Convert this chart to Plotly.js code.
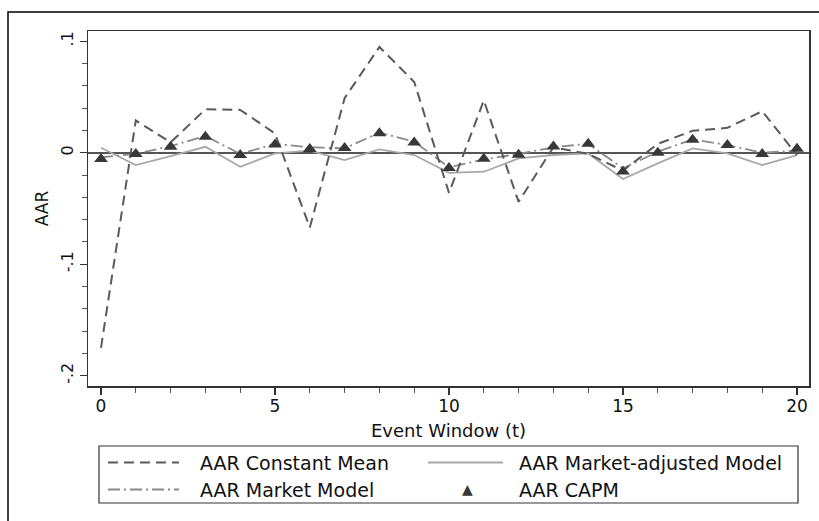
<!DOCTYPE html>
<html>
<head>
<meta charset="utf-8">
<script src="https://cdn.plot.ly/plotly-3.0.1.min.js"></script>
<style>
html,body{margin:0;padding:0;background:#fff;}
#chart{width:819px;height:521px;}
</style>
</head>
<body>
<div id="chart"></div>
<script>
const eventWindow = [0,1,2,3,4,5,6,7,8,9,10,11,12,13,14,15,16,17,18,19,20];
const aarConstantMean = [-0.175,0.029,0.0093,0.039,0.0385,0.0173,-0.067,0.049,0.095,0.0636,-0.036,0.047,-0.044,0.005,-0.001,-0.016,0.008,0.0197,0.0224,0.0373,-0.002];
const aarMarketAdjusted = [0.0045,-0.011,-0.003,0.0054,-0.0125,-0.0006,0.002,-0.0066,0.003,-0.002,-0.018,-0.017,-0.005,-0.002,-0.0006,-0.0236,-0.0095,0.0039,-0.0006,-0.011,-0.002];
const aarMarketModel = [-0.004,-0.001,0.006,0.015,-0.001,0.008,0.005,0.004,0.018,0.010,-0.013,-0.006,-0.001,0.005,0.008,-0.014,0.001,0.012,0.007,0.000,0.002];
const aarCAPM = [-0.0055,-0.001,0.0055,0.0145,-0.002,0.0075,0.0033,0.0042,0.0176,0.0093,-0.0137,-0.0054,-0.0018,0.0057,0.008,-0.0167,0.0,0.0116,0.0069,-0.001,0.0036];
const seriesNames = ["AAR Constant Mean","AAR Market-adjusted Model","AAR Market Model","AAR CAPM"];
const yTickVals = [-0.2,-0.1,0,0.1];
const yTickText = ["-.2","-.1","0",".1"];
const xTickVals = [0,5,10,15,20];

const FONT = "DejaVu Sans, Liberation Sans, Arial, sans-serif";
const C_CM = "#5a5a5a", C_MA = "#a8a8a8", C_MM = "#8a8a8a", C_CAPM = "#383838";
const DASH_CM = "10px,6px", DASH_MM = "12px,4px,2px,4px";

const traces = [
  {x: eventWindow, y: aarMarketAdjusted, name: seriesNames[1], type: "scatter", mode: "lines",
   line: {color: C_MA, width: 1.8}},
  {x: eventWindow, y: aarMarketModel, name: seriesNames[2], type: "scatter", mode: "lines",
   line: {color: C_MM, width: 1.8, dash: DASH_MM}},
  {x: eventWindow, y: aarConstantMean, name: seriesNames[0], type: "scatter", mode: "lines",
   line: {color: C_CM, width: 2, dash: DASH_CM}},
  {x: eventWindow, y: aarCAPM, name: seriesNames[3], type: "scatter", mode: "markers",
   marker: {symbol: "triangle-up", size: 12, color: C_CAPM}}
];

// pixel -> paper helpers (plot area: x 88..809, y 31..386)
const PL = 88, PR = 809, PT = 31, PB = 386;
const px = v => (v - PL) / (PR - PL);
const py = v => (PB - v) / (PB - PT);

const row1 = 462.5, row2 = 489.5;
const legendShapes = [
  {type: "rect", xref: "paper", yref: "paper", x0: px(99), x1: px(798), y0: py(503), y1: py(446),
   line: {color: "#333", width: 1.2}, fillcolor: "rgba(0,0,0,0)"},
  {type: "line", xref: "paper", yref: "paper", x0: px(108), x1: px(179), y0: py(row1), y1: py(row1),
   line: {color: C_CM, width: 2, dash: DASH_CM}},
  {type: "line", xref: "paper", yref: "paper", x0: px(108), x1: px(179), y0: py(row2), y1: py(row2),
   line: {color: C_MM, width: 1.8, dash: DASH_MM}},
  {type: "line", xref: "paper", yref: "paper", x0: px(428), x1: px(503), y0: py(row1), y1: py(row1),
   line: {color: C_MA, width: 1.8}}
];
const legendTexts = [
  {text: seriesNames[0], x: px(198), y: py(row1)},
  {text: seriesNames[1], x: px(517), y: py(row1)},
  {text: seriesNames[2], x: px(198), y: py(row2)},
  {text: seriesNames[3], x: px(517), y: py(row2)}
].map(a => ({xref: "paper", yref: "paper", x: a.x, y: a.y, text: a.text, showarrow: false,
  xanchor: "left", yanchor: "middle", font: {family: FONT, size: 19, color: "#111"}}));
legendTexts.push({xref: "paper", yref: "paper", x: px(467), y: py(row2 - 1), text: "▲", showarrow: false,
  xanchor: "center", yanchor: "middle", font: {family: FONT, size: 14, color: C_CAPM}});

const layout = {
  width: 819, height: 521,
  margin: {l: PL, r: 819 - PR, t: PT, b: 521 - PB},
  paper_bgcolor: "#fff", plot_bgcolor: "#fff",
  font: {family: FONT, size: 17, color: "#111"},
  showlegend: false,
  xaxis: {
    range: [-0.374, 20.345], tickvals: xTickVals, ticks: "outside", ticklen: 7, tickwidth: 1.2, tickcolor: "#333",
    minor: {dtick: 1, ticks: "outside", ticklen: 5, tickwidth: 1, tickcolor: "#555", showgrid: false},
    showgrid: false, zeroline: false, showline: true, mirror: true, linecolor: "#333", linewidth: 1.5,
    tickfont: {size: 17}, automargin: false, ticklabelstandoff: -3,
    title: {text: "Event Window (t)", font: {size: 18}, standoff: 9}
  },
  yaxis: {
    range: [-0.2093, 0.1093], tickvals: yTickVals, ticktext: yTickText, tickangle: -90,
    ticks: "outside", ticklen: 7, tickwidth: 1.2, tickcolor: "#333",
    minor: {dtick: 0.02, ticks: "outside", ticklen: 5, tickwidth: 1, tickcolor: "#555", showgrid: false},
    showgrid: false, zeroline: true, zerolinecolor: "#555", zerolinewidth: 2,
    showline: true, mirror: true, linecolor: "#333", linewidth: 1.5,
    tickfont: {size: 16}, automargin: false, ticklabelstandoff: 0,
    title: {text: "AAR", font: {size: 17}, standoff: 5}
  },
  annotations: legendTexts,
  shapes: [
    {type: "rect", xref: "paper", yref: "paper", x0: px(8), x1: px(840), y0: py(540), y1: py(12),
     line: {color: "#000", width: 1.5}, fillcolor: "rgba(0,0,0,0)", layer: "below"}
  ].concat(legendShapes)
};

Plotly.newPlot("chart", traces, layout, {displayModeBar: false, staticPlot: true});
</script>
</body>
</html>
